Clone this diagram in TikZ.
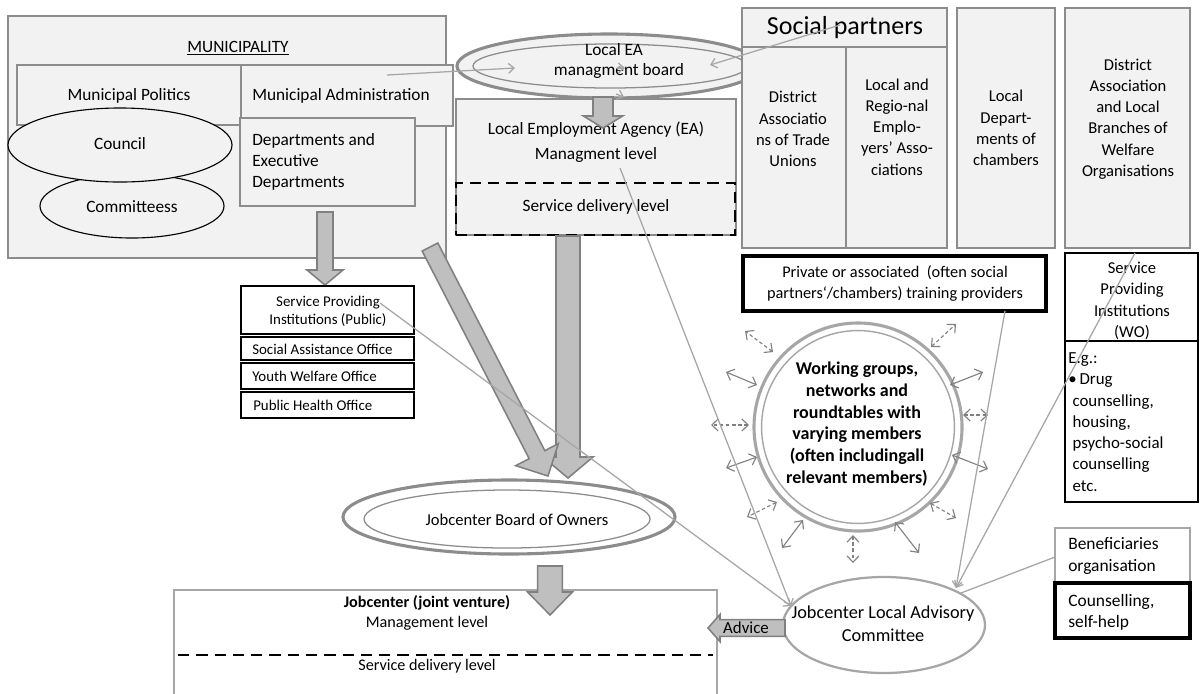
\documentclass[tikz,border=0pt]{standalone}
\usepackage{fontspec}
\setmainfont{Carlito}
\usetikzlibrary{arrows.meta,calc,fit,shapes.geometric}

\definecolor{panel}{HTML}{F2F2F2}
\definecolor{edge}{HTML}{8C8C8C}
\definecolor{soft}{HTML}{A6A6A6}
\definecolor{arrfill}{HTML}{BFBFBF}
\definecolor{arredge}{HTML}{808080}

% block arrow: start, end, half shaft width, half head width, head length
\newcommand\blockarr[5]{%
  \coordinate (ba-s) at (#1);
  \coordinate (ba-e) at (#2);
  \coordinate (ba-h) at ($(ba-e)!#5!(ba-s)$);
  \draw[blockarrow]
    ($(ba-s)!#3!90:(ba-e)$) -- ($(ba-h)!#3!-90:(ba-s)$) --
    ($(ba-h)!#4!-90:(ba-s)$) -- (ba-e) --
    ($(ba-h)!#4!90:(ba-s)$) -- ($(ba-h)!#3!90:(ba-s)$) --
    ($(ba-s)!#3!-90:(ba-e)$) -- cycle;
}

\tikzset{
  panelbox/.style={draw=edge, line width=1.2pt, fill=panel, inner sep=0pt},
  plainbox/.style={draw=soft, line width=1.5pt, fill=white, inner sep=0pt},
  darkbox/.style={draw=black, line width=1.6pt, fill=white, inner sep=0pt},
  oval/.style={ellipse, inner sep=0pt},
  txt/.style={inner sep=0pt, align=center, font=\fontsize{12.3}{15}\selectfont},
  smalltxt/.style={txt, font=\fontsize{10.6}{12.8}\selectfont},
  colstxt/.style={txt, font=\fontsize{11.8}{15.1}\selectfont},
  boldtxt/.style={txt, font=\fontsize{12.8}{15.5}\selectfont\bfseries},
  blockarrow/.style={fill=arrfill, draw=arredge, line width=1.1pt, line join=miter},
  wire/.style={draw=soft, line width=0.9pt, -{Straight Barb[length=4pt,width=7pt]}},
  spoke/.style={draw=arredge, line width=0.8pt,
    {Straight Barb[length=4.5pt,width=8.5pt]}-{Straight Barb[length=4.5pt,width=8.5pt]}},
  spokedash/.style={spoke, dash pattern=on 2.5pt off 1.8pt},
  lvldash/.style={draw=black, line width=1.8pt, dash pattern=on 8pt off 5pt},
}

\begin{document}
\begin{tikzpicture}[x=0.025cm, y=-0.025cm]
\useasboundingbox (0,0) rectangle (1201,693);

% ---------------- municipality ----------------
\node[panelbox, line width=1.5pt, fit={(8,16) (446,258)}] (muni) {};
\node[txt] (muni-t) at (238,48) {\underline{MUNICIPALITY}};
\node[panelbox, line width=1pt, fit={(241,65) (453,126)}] (admin) {};
\node[txt] (admin-t) at (341,96) {Municipal Administration};
\node[panelbox, line width=1pt, fit={(17,65) (241,125)}] (politics) {};
\node[txt] (politics-t) at (129,96) {Municipal Politics};
\node[oval, draw=black, line width=0.8pt, fill=panel, minimum width=4.6cm, minimum height=1.6cm] (committees) at (132,206) {};
\node[txt] (committees-t) at (132,207) {Committeess};
\node[oval, draw=black, line width=0.8pt, fill=panel, minimum width=5.6cm, minimum height=1.85cm] (council) at (120,145) {};
\node[txt] (council-t) at (120,144) {Council};
\node[panelbox, line width=1pt, fit={(240,118) (415,206)}] (depts) {};
\node[txt, align=left, anchor=west] (depts-t) at (252,162) {Departments and\\Executive\\Departments};

% ---------------- local employment agency ----------------
\node[panelbox, fit={(456,99) (736,235)}] (ea) {};
\node[txt] (ea-t1) at (596,130) {Local Employment Agency (EA)};
\node[txt] (ea-t2) at (596,155) {Managment level};
\node[lvldash, inner sep=0pt, fit={(456,183) (735,235)}] (ea-sd) {};
\node[txt] (ea-sd-t) at (596,207) {Service delivery level};

\node[oval, draw=edge, line width=2.2pt, fill=panel, minimum width=7.6cm, minimum height=1.6cm] (board) at (609,66) {};
\node[oval, draw=edge, line width=0.9pt, minimum width=6.85cm, minimum height=1.1cm] (board-in) at (610,66) {};
\node[txt] (board-t1) at (614,50) {Local EA};
\node[txt] (board-t2) at (619,71) {managment board};

\coordinate (board-out) at (603,97);
\coordinate (ea-in) at (603,128);
\blockarr{board-out}{ea-in}{0.25cm}{0.49cm}{0.3cm}

% ---------------- social partners and chambers ----------------
\node[panelbox, line width=1.5pt, fit={(742,8) (947,47)}] (sp-head) {};
\node[txt, font=\fontsize{18.5}{22}\selectfont] (sp-head-t) at (845,28) {Social partners};
\node[panelbox, line width=1.5pt, fit={(742,47) (846,248)}] (sp-tu) {};
\node[colstxt] (sp-tu-t) at (793,129) {District\\Associatio\\ns of Trade\\Unions};
\node[panelbox, line width=1.5pt, fit={(846,47) (947,248)}] (sp-emp) {};
\node[colstxt] (sp-emp-t) at (897,127) {Local and\\Regio-nal\\Emplo-\\yers’ Asso-\\ciations};
\node[panelbox, line width=1.5pt, fit={(957,8) (1055,248)}] (chambers) {};
\node[colstxt] (chambers-t) at (1006,128) {Local\\Depart-\\ments of\\chambers};
\node[panelbox, line width=1.5pt, fit={(1065,8) (1190,248)}] (welfare) {};
\node[colstxt] (welfare-t) at (1128,119) {District\\Association\\and Local\\Branches of\\Welfare\\Organisations};

\node[darkbox, line width=2.2pt, fit={(743,256) (1046,311)}] (private) {};
\node[txt, font=\fontsize{11.6}{15}\selectfont] (private-t) at (895,283) {Private or associated\ \ (often social\\partners‘/chambers) training providers};

\node[darkbox, line width=2pt, fit={(1065,253) (1198,341)}] (wo) {};
\node[colstxt] (wo-t) at (1132,301) {Service\\Providing\\Institutions\\(WO)};
\node[darkbox, line width=2pt, fit={(1065,341) (1198,502)}] (wo-eg) {};
\node[txt, align=left, anchor=west, font=\fontsize{12}{15.1}\selectfont] (wo-eg-t) at (1068,422)
  {E.g.:\\\textbullet\,Drug\\\hspace*{3pt}counselling,\\\hspace*{3pt}housing,\\\hspace*{3pt}psycho-social\\\hspace*{3pt}counselling\\\hspace*{3pt}etc.};

% ---------------- public service providers ----------------
\coordinate (depts-out) at (325,212);
\coordinate (spi-in) at (325,285);
\blockarr{depts-out}{spi-in}{0.2cm}{0.45cm}{0.375cm}

\node[darkbox, fit={(241,286) (414,334)}] (spi) {};
\node[smalltxt] (spi-t) at (328,311) {Service Providing\\Institutions (Public)};
\node[darkbox, fit={(241,337) (414,360)}] (sao) {};
\node[smalltxt, anchor=west] (sao-t) at (252,349) {Social Assistance Office};
\node[darkbox, fit={(241,363) (414,389)}] (ywo) {};
\node[smalltxt, anchor=west] (ywo-t) at (252,376) {Youth Welfare Office};
\node[darkbox, fit={(241,392) (414,418)}] (pho) {};
\node[smalltxt, anchor=west] (pho-t) at (253,405) {Public Health Office};

% ---------------- working groups ----------------
\node[circle, draw=soft, line width=2.2pt, fill=white, minimum size=5.2cm, inner sep=0pt] (wg) at (858,427) {};
\node[circle, draw=soft, line width=1pt, minimum size=4.82cm, inner sep=0pt] (wg-in) at (858,427) {};
\node[boldtxt] (wg-t) at (857,424) {Working groups,\\networks and\\roundtables with\\varying members\\(often includingall\\relevant members)};

\draw[spokedash] (773,352) -- (745,331);
\draw[spokedash] (931,347) -- (956,324);
\draw[spoke] (757,385) -- (726,372);
\draw[spoke] (950,385) -- (983,372);
\draw[spokedash] (749,425) -- (711,425);
\draw[spokedash] (963,415) -- (988,415);
\draw[spoke] (757,457) -- (726,468);
\draw[spoke] (952,455) -- (988,469);
\draw[spokedash] (777,502) -- (747,517);
\draw[spokedash] (930,503) -- (956,518);
\draw[spoke] (803,520) -- (782,548);
\draw[spokedash] (853,535) -- (853,563);
\draw[spoke] (895,522) -- (919,553);

% ---------------- jobcenter board of owners ----------------
\node[oval, draw=edge, line width=2.2pt, fill=white, minimum width=8.3cm, minimum height=1.85cm] (owners) at (509,517) {};
\node[oval, draw=edge, line width=0.9pt, minimum width=7.15cm, minimum height=1.45cm] (owners-in) at (507,519) {};
\node[txt, font=\fontsize{11.8}{15}\selectfont] (owners-t) at (517,520) {Jobcenter Board of Owners};

\coordinate (ea-out) at (568,236);
\coordinate (owners-in-r) at (568,478);
\blockarr{ea-out}{owners-in-r}{0.3cm}{0.625cm}{0.525cm}
\coordinate (muni-out) at (430,247);
\coordinate (owners-in-l) at (548,476);
\blockarr{muni-out}{owners-in-l}{0.22cm}{0.6cm}{0.6cm}

% ---------------- jobcenter ----------------
\node[plainbox, fit={(174,590) (717,705)}] (jc) {};
\node[txt, font=\fontsize{11.5}{14}\selectfont\bfseries] (jc-t1) at (427,603) {Jobcenter (joint venture)};
\node[txt, font=\fontsize{11.5}{14}\selectfont] (jc-t2) at (427,623) {Management level};
\coordinate (jc-dl) at (178,655);
\coordinate (jc-dr) at (713,655);
\draw[lvldash] (jc-dl) -- (jc-dr);
\node[txt, font=\fontsize{11.5}{14}\selectfont] (jc-t3) at (427,666) {Service delivery level};

\coordinate (owners-out) at (550,566);
\coordinate (jc-in) at (550,615);
\blockarr{owners-out}{jc-in}{0.31cm}{0.56cm}{0.575cm}

\node[oval, draw=soft, line width=1.6pt, fill=white, minimum width=5.05cm, minimum height=2.4cm] (adv) at (884,625) {};
\node[txt, font=\fontsize{13}{16.3}\selectfont] (adv-t) at (883,624) {Jobcenter Local Advisory\\Committee};

\coordinate (adv-out) at (785,628);
\coordinate (jc-adv) at (708,628);
\blockarr{adv-out}{jc-adv}{0.21cm}{0.34cm}{0.3cm}
\node[txt, font=\fontsize{12}{14}\selectfont] (advice-t) at (746,628) {Advice};

\node[plainbox, line width=2pt, fit={(1055,528) (1190,582)}] (benef) {};
\node[txt, align=left, anchor=west, font=\fontsize{12.4}{15}\selectfont] (benef-t) at (1068,556) {Beneficiaries\\organisation};
\node[darkbox, line width=2.2pt, fit={(1055,583) (1190,638)}] (selfhelp) {};
\node[txt, align=left, anchor=west, font=\fontsize{12.4}{15}\selectfont] (selfhelp-t) at (1068,612) {Counselling,\\self-help};

% ---------------- thin connectors ----------------
\coordinate (admin-src) at (387,75);
\coordinate (board-l) at (515,68);
\draw[wire] (admin-src) -- (board-l);
\coordinate (sp-src) at (840,25);
\coordinate (board-r) at (710,65);
\draw[wire] (sp-src) -- (board-r);
\coordinate (frag-a) at (617,68);
\coordinate (frag-ae) at (625,68);
\draw[wire] (frag-a) -- (frag-ae);
\coordinate (frag-b) at (616,94);
\coordinate (frag-be) at (624,97);
\draw[wire] (frag-b) -- (frag-be);

\coordinate (spi-src) at (380,303);
\coordinate (ea-src) at (620,168);
\coordinate (adv-w) at (791,606);
\draw[wire] (spi-src) -- (adv-w);
\draw[wire] (ea-src) -- (adv-w);
\coordinate (private-src) at (1005,311);
\coordinate (wo-src) at (1135,253);
\coordinate (adv-ne) at (956,588);
\draw[wire] (private-src) -- (adv-ne);
\draw[wire] (wo-src) -- (adv-ne);
\coordinate (benef-src) at (1055,557);
\coordinate (adv-e) at (961,593);
\draw[wire, -] (benef-src) -- (adv-e);

\end{tikzpicture}
\end{document}
